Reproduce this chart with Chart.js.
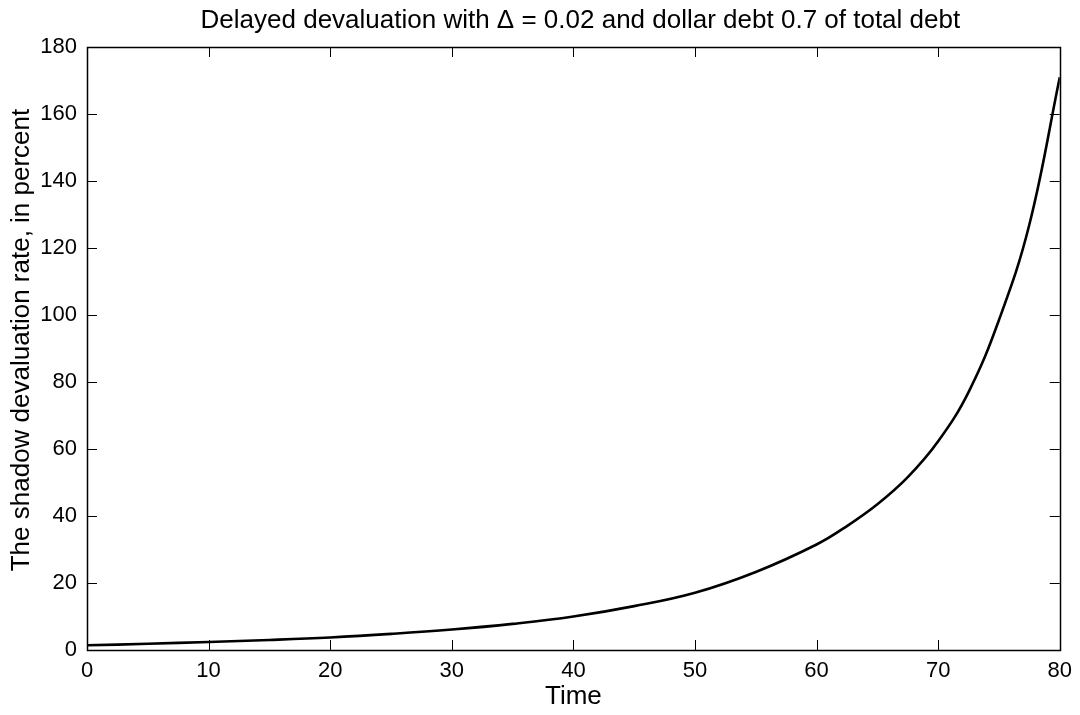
<!DOCTYPE html>
<html>
<head>
<meta charset="utf-8">
<script src="https://cdn.jsdelivr.net/npm/chart.js@4/dist/chart.umd.min.js"></script>
<style>
  html, body { margin: 0; padding: 0; background: #fff; }
  #wrap { width: 1080px; height: 715px; }
</style>
</head>
<body>
<div id="wrap"><canvas id="devalChart" width="1080" height="715"></canvas></div>
<script>
// Data
const timePoints = [0, 5, 10, 15, 20, 25, 30, 35, 40, 45, 50, 55, 60, 62.5, 65, 67.5, 70, 72.5, 75, 77.5, 80];
const shadowRate = [1.4, 1.85, 2.4, 3.0, 3.75, 4.8, 6.1, 7.8, 10.0, 13.1, 17.1, 23.3, 31.5, 37.0, 43.5, 51.6, 62.3, 77, 98.5, 127, 171];
const xTicks = [0, 10, 20, 30, 40, 50, 60, 70, 80];
const yTicks = [0, 20, 40, 60, 80, 100, 120, 140, 160, 180];

const chartTitle = 'Delayed devaluation with \u0394 = 0.02 and dollar debt 0.7 of total debt';
const xLabel = 'Time';
const yLabel = 'The shadow devaluation rate, in percent';

const FONT = "'Liberation Sans', Arial, Helvetica, sans-serif";

// Matlab-like box with inward ticks, title over the axes and the y label
const boxPlugin = {
    id: 'matlabBox',
    afterDraw(chart) {
        const ctx = chart.ctx;
        const a = chart.chartArea;
        const xs = chart.scales.x, ys = chart.scales.y;
        const tick = 10;
        ctx.save();
        ctx.strokeStyle = '#000';
        ctx.lineWidth = 1;
        ctx.beginPath();
        xTicks.forEach(v => {
            const px = Math.round(xs.getPixelForValue(v)) + 0.5;
            ctx.moveTo(px, a.bottom); ctx.lineTo(px, a.bottom - tick);
            ctx.moveTo(px, a.top); ctx.lineTo(px, a.top + tick);
        });
        yTicks.forEach(v => {
            const py = Math.round(ys.getPixelForValue(v)) + 0.5;
            ctx.moveTo(a.left, py); ctx.lineTo(a.left + tick, py);
            ctx.moveTo(a.right, py); ctx.lineTo(a.right - tick, py);
        });
        ctx.stroke();
        ctx.lineWidth = 1.5;
        ctx.strokeRect(Math.round(a.left) + 0.5, Math.round(a.top) + 0.5,
            Math.round(a.right - a.left), Math.round(a.bottom - a.top));

        ctx.fillStyle = '#000';
        ctx.font = '26px ' + FONT;
        ctx.textAlign = 'center';
        ctx.textBaseline = 'middle';
        ctx.fillText(chartTitle, (a.left + a.right) / 2 + 7, 21);

        ctx.translate(22, 340);
        ctx.rotate(-Math.PI / 2);
        ctx.fillText(yLabel, 0, 0);
        ctx.restore();
    }
};

const ctx = document.getElementById('devalChart').getContext('2d');
new Chart(ctx, {
    type: 'line',
    data: {
        datasets: [{
            label: yLabel,
            data: timePoints.map((t, i) => ({ x: t, y: shadowRate[i] })),
            borderColor: '#000',
            borderWidth: 2.6,
            pointRadius: 0,
            fill: false,
            tension: 0.4
        }]
    },
    options: {
        responsive: false,
        animation: false,
        layout: { padding: { top: 47, right: 20, left: 0, bottom: 0 } },
        plugins: {
            legend: { display: false },
            title: { display: false },
            tooltip: { enabled: false }
        },
        scales: {
            x: {
                type: 'linear',
                min: 0,
                max: 80,
                afterBuildTicks: s => { s.ticks = xTicks.map(v => ({ value: v })); },
                afterFit: s => { s.height = 65; },
                grid: { display: false, drawTicks: false },
                border: { display: false },
                ticks: { color: '#000', font: { family: FONT, size: 22 }, padding: 8, maxRotation: 0 },
                title: {
                    display: true, text: xLabel, color: '#000',
                    font: { family: FONT, size: 26 }, padding: { top: 0, bottom: 3 }
                }
            },
            y: {
                type: 'linear',
                min: 0,
                max: 180,
                afterBuildTicks: s => { s.ticks = yTicks.map(v => ({ value: v })); },
                afterFit: s => { s.width = 87; },
                grid: { display: false, drawTicks: false },
                border: { display: false },
                ticks: { color: '#000', font: { family: FONT, size: 22 }, padding: 10 },
                title: { display: false }
            }
        }
    },
    plugins: [boxPlugin]
});
</script>
</body>
</html>
